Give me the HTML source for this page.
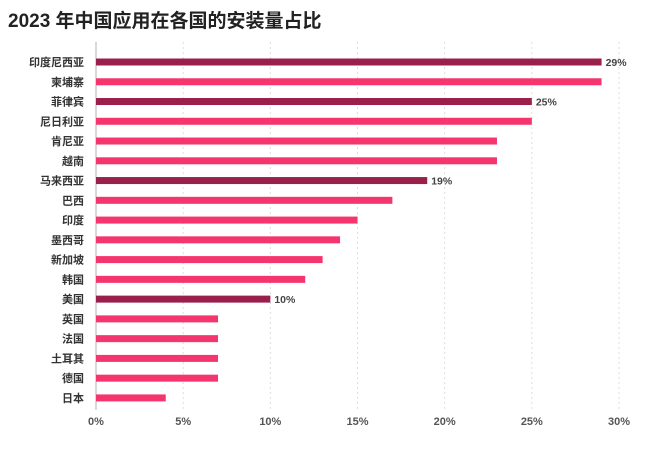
<!DOCTYPE html>
<html><head><meta charset="utf-8">
<style>
html,body{margin:0;padding:0;background:#fff;}
body{width:650px;height:445px;overflow:hidden;font-family:"Liberation Sans","Noto Sans CJK SC",sans-serif;}
</style></head>
<body>
<svg id="chart" width="650" height="445" xmlns="http://www.w3.org/2000/svg">
<text x="8" y="27" font-size="19" font-weight="bold" fill="#222" font-family="Liberation Sans, Noto Sans CJK SC, sans-serif">2023 年中国应用在各国的安装量占比</text>
<g id="grid"></g><g id="bars"></g><g id="labels"></g>
</svg>
<script>
const categories=["印度尼西亚","柬埔寨","菲律宾","尼日利亚","肯尼亚","越南","马来西亚","巴西","印度","墨西哥","新加坡","韩国","美国","英国","法国","土耳其","德国","日本"];
const values=[29,29,25,25,23,23,19,17,15,14,13,12,10,7,7,7,7,4];
const highlighted=[true,false,true,false,false,false,true,false,false,false,false,false,true,false,false,false,false,false];
const ticks=[0,5,10,15,20,25,30];
const NS="http://www.w3.org/2000/svg";
const x0=96,x1=619,xmax=30,y0=62,step=19.76,bh=7;
function xs(v){return x0+(x1-x0)*v/xmax;}
function ys(i){return y0+i*step;}
function mk(tag,attrs,parent){const e=document.createElementNS(NS,tag);for(const k in attrs)e.setAttribute(k,attrs[k]);parent.appendChild(e);return e;}
const grid=document.getElementById('grid'),bars=document.getElementById('bars'),labels=document.getElementById('labels');
ticks.forEach(t=>{
  const l=mk('line',{x1:xs(t),x2:xs(t),y1:42,y2:410,stroke:t===0?'#ccc':'#ddd','stroke-width':t===0?1.5:1,'stroke-dasharray':t===0?'':'2,3'},grid);
  
  
  const tx=mk('text',{x:xs(t),y:425,'text-anchor':'middle','font-size':11,fill:'#555','font-weight':'bold'},grid);
  tx.textContent=t+'%';
  
  
});
categories.forEach((c,i)=>{
  const y=ys(i);
  const r=mk('rect',{x:x0,y:y-bh/2,width:xs(values[i])-x0,height:bh,fill:highlighted[i]?'#9b1f4b':'#f5356e'},bars);
  
  
  const t=mk('text',{x:84,y:y+4,'text-anchor':'end','font-size':11,fill:'#333','font-weight':'bold'},labels);
  t.textContent=c;
  
  
  if(highlighted[i]){
    const v=mk('text',{x:xs(values[i])+4,y:y+4,'font-size':10.5,fill:'#444','font-weight':'bold'},labels);
    v.textContent=values[i]+'%';
    
    
  }
});
</script>
</body></html>
